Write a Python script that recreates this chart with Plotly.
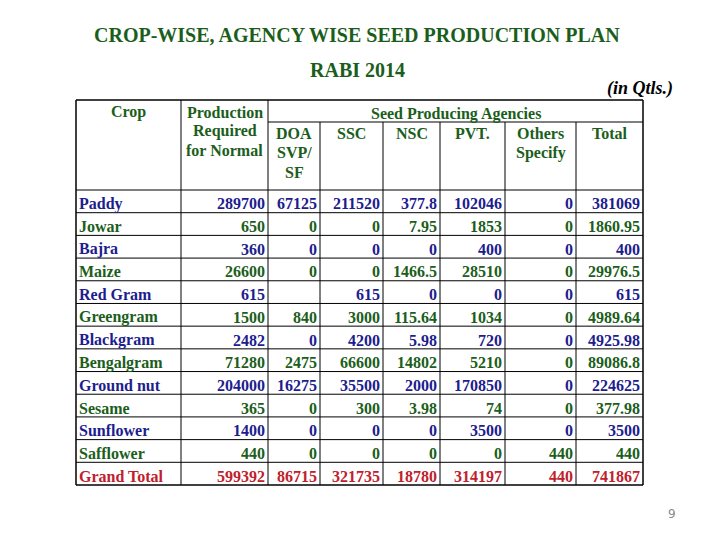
import plotly.graph_objects as go

# ---------------- data ----------------
crops = ["Paddy", "Jowar", "Bajra", "Maize", "Red Gram", "Greengram", "Blackgram",
         "Bengalgram", "Ground nut", "Sesame", "Sunflower", "Safflower", "Grand Total"]
production_required = [289700, 650, 360, 26600, 615, 1500, 2482, 71280, 204000, 365, 1400, 440, 599392]
doa_svp_sf = [67125, 0, 0, 0, None, 840, 0, 2475, 16275, 0, 0, 0, 86715]
ssc = [211520, 0, 0, 0, 615, 3000, 4200, 66600, 35500, 300, 0, 0, 321735]
nsc = [377.8, 7.95, 0, 1466.5, 0, 115.64, 5.98, 14802, 2000, 3.98, 0, 0, 18780]
pvt = [102046, 1853, 400, 28510, 0, 1034, 720, 5210, 170850, 74, 3500, 0, 314197]
others_specify = [0, 0, 0, 0, 0, 0, 0, 0, 0, 0, 0, 440, 440]
total = [381069, 1860.95, 400, 29976.5, 615, 4989.64, 4925.98, 89086.8, 224625, 377.98, 3500, 440, 741867]

title_line1 = "CROP-WISE, AGENCY WISE SEED PRODUCTION PLAN"
title_line2 = "RABI 2014"
unit_note = "(in Qtls.)"
group_header = "Seed Producing Agencies"
page_no = "9"

# ---------------- layout / style ----------------
GREEN = "#1b5e1b"
BLUE = "#1d1d8e"
RED = "#c0202c"
FONT = "Liberation Serif"
OFF = 8  # page body margin

col_x = [76, 181, 268, 320, 383, 440, 505, 576, 643]
top_y, group_y, head_bot, bot_y = 100, 122, 190, 485
n_rows = len(crops)
rh = (bot_y - head_bot) / n_rows

fig = go.Figure()
fig.add_trace(go.Scatter(x=[100], y=[100], mode="markers", marker=dict(opacity=0), hoverinfo="skip", showlegend=False))

shapes = []
def line(x0, y0, x1, y1, w=1.0):
    shapes.append(dict(type="line", xref="x", yref="y", x0=x0, y0=y0, x1=x1, y1=y1,
                       line=dict(color="black", width=w)))

# horizontal lines
line(col_x[0], top_y, col_x[-1], top_y, 1.5)
line(col_x[2], group_y, col_x[-1], group_y)
for i in range(n_rows + 1):
    y = head_bot + i * rh
    line(col_x[0], y, col_x[-1], y, 1.5 if i == n_rows else 1.0)
# vertical lines
for j, x in enumerate(col_x):
    y0 = top_y if j in (0, 1, 2, len(col_x) - 1) else group_y
    line(x, y0, x, bot_y, 1.5 if j in (0, len(col_x) - 1) else 1.0)

ann = []
def text(x, y, s, color, size=16, xanchor="center", italic=False, family=FONT, bold=True):
    t = f"<b>{s}</b>" if bold else s
    if italic:
        t = f"<i>{t}</i>"
    ann.append(dict(x=x, y=y, xref="x", yref="y", text=t, showarrow=False,
                    xanchor=xanchor, yanchor="middle",
                    font=dict(family=family, size=size, color=color)))

# titles
text(357, 35, title_line1, GREEN, size=20)
text(357, 70, title_line2, GREEN, size=20)
text(640, 88, unit_note, "black", size=18, italic=True)

# header
def cx(j):
    return (col_x[j] + col_x[j + 1]) / 2
text(cx(0), 112, "Crop", GREEN)
for k, s in enumerate(["Production", "Required", "for Normal"]):
    text(cx(1), 112 + k * 19, s, GREEN)
text((col_x[2] + col_x[-1]) / 2, 114, group_header, GREEN)
sub_headers = [["DOA", "SVP/", "SF"], ["SSC"], ["NSC"], ["PVT."], ["Others", "Specify"], ["Total"]]
for j, lines in enumerate(sub_headers):
    for k, s in enumerate(lines):
        text(cx(j + 2), 133 + k * 19.5, s, GREEN)

# body
def fmt(v):
    if v is None:
        return ""
    if float(v).is_integer():
        return str(int(v))
    return f"{v:g}"

columns = [production_required, doa_svp_sf, ssc, nsc, pvt, others_specify, total]
for i, crop in enumerate(crops):
    if i == n_rows - 1:
        color = RED
    else:
        color = BLUE if i % 2 == 0 else GREEN
    y = head_bot + (i + 0.5) * rh + 2.5
    text(col_x[0] + 1, y, crop, color, xanchor="left")
    for j, col in enumerate(columns):
        s = fmt(col[i])
        if s:
            text(col_x[j + 2] - 1.5, y, s, color, xanchor="right")

# page number
text(672, 514, page_no, "#8a8a8a", size=12, family="DejaVu Sans", bold=False)

fig.update_layout(
    width=720, height=540,
    margin=dict(l=0, r=0, t=0, b=0),
    paper_bgcolor="white", plot_bgcolor="white",
    xaxis=dict(range=[OFF, 720 + OFF], visible=False, fixedrange=True),
    yaxis=dict(range=[540 + OFF, OFF], visible=False, fixedrange=True),
    shapes=shapes, annotations=ann, showlegend=False,
)
fig.write_html("out.html")
